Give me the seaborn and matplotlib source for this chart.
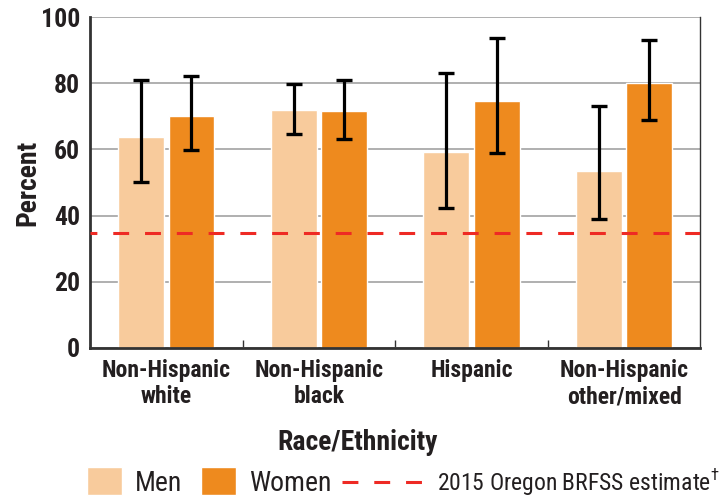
import numpy as np
import pandas as pd
import matplotlib
matplotlib.use('Agg')
import matplotlib.pyplot as plt
from matplotlib.patches import Patch
from matplotlib.lines import Line2D
import seaborn as sns

# Data
groups = ['Non-Hispanic\nwhite', 'Non-Hispanic\nblack', 'Hispanic', 'Non-Hispanic\nother/mixed']
men = [63.8, 72.0, 59.3, 53.5]
women = [70.2, 71.7, 74.8, 80.1]
men_low = [50.3, 64.8, 42.2, 38.9]
men_high = [81.0, 79.9, 83.0, 73.3]
women_low = [59.8, 63.3, 59.0, 68.8]
women_high = [82.1, 80.9, 93.8, 93.2]
brfss_estimate = 34.7

men_color = '#F8CB9C'
women_color = '#EE8A1E'
line_color = '#EE2A24'
text_color = '#231F20'

sns.set_style('white')
plt.rcParams['font.family'] = ['Roboto Condensed', 'DejaVu Sans']
plt.rcParams['mathtext.fontset'] = 'custom'
plt.rcParams['mathtext.rm'] = 'Roboto Condensed'

df = pd.DataFrame({
    'group': groups * 2,
    'sex': ['Men'] * 4 + ['Women'] * 4,
    'value': men + women,
    'low': men_low + women_low,
    'high': men_high + women_high,
})

fig = plt.figure(figsize=(7.21, 4.97), dpi=100)
ax = fig.add_axes([0.1248, 0.3004, 0.8467, 0.6648])

sns.barplot(data=df, x='group', y='value', hue='sex', palette=[men_color, women_color],
            width=0.66, gap=0.09, errorbar=None, saturation=1, legend=False, ax=ax)

# error bars at the bar centres
for container, sex in zip(ax.containers, ['Men', 'Women']):
    sub = df[df['sex'] == sex]
    xs = [p.get_x() + p.get_width() / 2 for p in container.patches]
    vals = sub['value'].values
    ax.errorbar(xs, vals, yerr=[vals - sub['low'].values, sub['high'].values - vals],
                fmt='none', ecolor='black', elinewidth=2.3, capsize=5.6, capthick=2.4, zorder=4)

dash = (2.95, (5.2, 5.2))
ax.axhline(brfss_estimate, color=line_color, linestyle=dash, linewidth=2.2, zorder=3)

ax.set_ylim(0, 100)
ax.set_xlim(-0.5, 3.5)
ax.set_yticks([0, 20, 40, 60, 80, 100])
ax.yaxis.grid(True, color='#A9A9A9', linewidth=1.3)
ax.set_axisbelow(True)
ax.set_xticks([0.5, 1.5, 2.5], minor=True)
ax.tick_params(axis='x', which='minor', direction='in', length=6, width=1, color='#333333', bottom=True)
ax.tick_params(axis='x', which='major', length=0, pad=8)
ax.tick_params(axis='y', length=0, pad=7)

for lab in ax.get_xticklabels():
    lab.set_fontsize(17)
    lab.set_fontweight('bold')
    lab.set_color(text_color)
    lab.set_linespacing(1.2)
for lab in ax.get_yticklabels():
    lab.set_fontsize(18.5)
    lab.set_fontweight('bold')
    lab.set_color(text_color)

ax.set_xlabel('Race/Ethnicity', fontsize=20, fontweight='bold', color=text_color)
ax.xaxis.set_label_coords(0.439, -0.245)
ax.set_ylabel('Percent', fontsize=20, fontweight='bold', color=text_color, labelpad=0)

for side in ['left', 'bottom']:
    ax.spines[side].set_color('#333333')
    ax.spines[side].set_linewidth(2)
ax.spines['right'].set_color('#333333')
ax.spines['right'].set_linewidth(1)
ax.spines['top'].set_visible(False)

# legend: patches and the dashed line as two pieces
patch_handles = [Patch(facecolor=men_color, label='Men'),
                 Patch(facecolor=women_color, label='Women')]
leg1 = fig.legend(handles=patch_handles, loc='center left', bbox_to_anchor=(87 / 721, 0.030), ncol=2,
                  frameon=False, fontsize=20, handlelength=1.26, handleheight=1.15,
                  handletextpad=0.47, columnspacing=0.68, borderpad=0, borderaxespad=0)
for t in leg1.get_texts():
    t.set_color(text_color)

line_handle = [Line2D([0], [0], color=line_color, linestyle=(0, (5.2, 5.2)), linewidth=2.2,
                      label='2015 Oregon BRFSS estimate$^{\\mathrm{\u2020}}$')]
leg2 = fig.legend(handles=line_handle, loc='center left', bbox_to_anchor=(342 / 721, 0.030),
                  frameon=False, fontsize=17, handlelength=3.39, handletextpad=0.64,
                  borderpad=0, borderaxespad=0)
for t in leg2.get_texts():
    t.set_color(text_color)

fig.savefig('out.png', dpi=100)
